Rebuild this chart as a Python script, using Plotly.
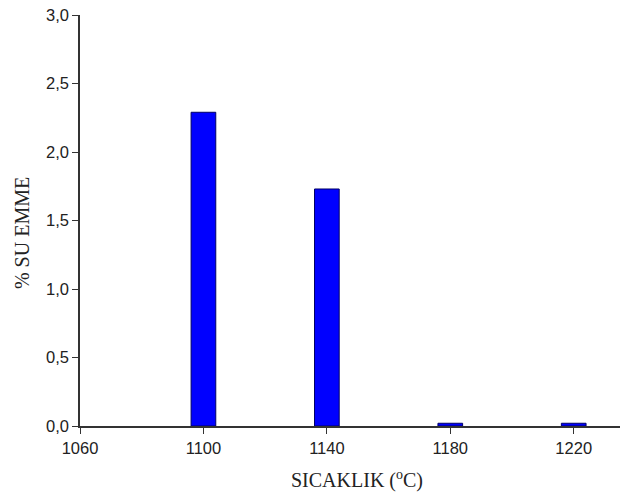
import plotly.graph_objects as go

temps = [1100, 1140, 1180, 1220]
water_absorption = [2.29, 1.73, 0.02, 0.02]
x_ticks = [1060, 1100, 1140, 1180, 1220]
y_ticks = [0, 0.5, 1.0, 1.5, 2.0, 2.5, 3.0]
y_tick_labels = ["0,0", "0,5", "1,0", "1,5", "2,0", "2,5", "3,0"]

title_font = dict(family="Liberation Serif, Times New Roman", size=20, color="#222")

fig = go.Figure()
fig.add_trace(go.Bar(
    x=temps, y=water_absorption, width=8,
    marker=dict(color="#0000FF", line=dict(color="#000066", width=1)),
))
fig.update_layout(
    width=633, height=497,
    margin=dict(l=80, r=13, t=15, b=71),
    paper_bgcolor="white", plot_bgcolor="white",
    showlegend=False,
    font=dict(family="Liberation Sans, Arial", size=16.5, color="#222"),
    annotations=[
        dict(text="% SU EMME", xref="paper", yref="paper", x=-0.107, y=0.47,
             xanchor="center", yanchor="middle", textangle=-90, showarrow=False, font=title_font),
        dict(text="SICAKLIK (<sup>o</sup>C)", xref="paper", yref="paper", x=0.513, y=-0.129,
             xanchor="center", yanchor="middle", showarrow=False, font=title_font),
    ],
)
fig.update_xaxes(
    range=[1060, 1235], tickvals=x_ticks, ticktext=[str(t) for t in x_ticks],
    showline=True, linecolor="#333", linewidth=1.5, ticks="outside", ticklen=6,
    tickcolor="#333", showgrid=False, zeroline=False, automargin=False,
)
fig.update_yaxes(
    range=[0, 3.0], tickvals=y_ticks, ticktext=y_tick_labels,
    showline=True, linecolor="#333", linewidth=1.5, ticks="outside", ticklen=6,
    tickcolor="#333", showgrid=False, zeroline=False, automargin=False,
)
fig.write_html("out.html", config={"displayModeBar": False},
               post_script="document.body.style.margin='0';")
